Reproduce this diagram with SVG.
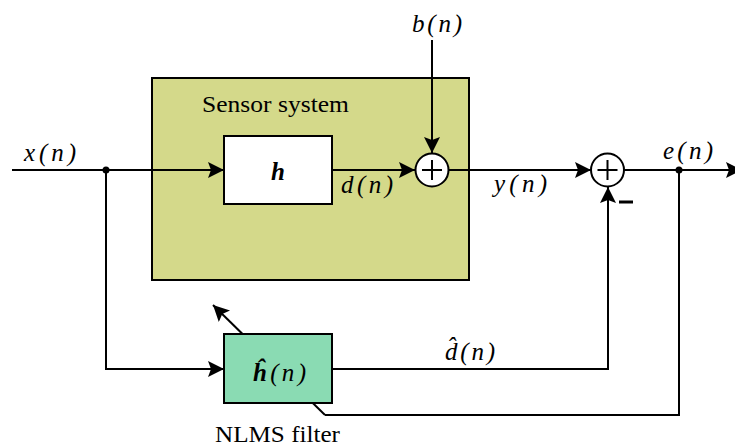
<svg xmlns="http://www.w3.org/2000/svg" width="735" height="448" viewBox="0 0 735 448">
<defs>
<marker id="arr" markerUnits="userSpaceOnUse" markerWidth="18" markerHeight="18" refX="16" refY="8" orient="auto">
<path d="M0,0 L16,8 L0,16 L3,8 Z" fill="#000"/>
</marker>
<style>
.ln{fill:none;stroke:#000;stroke-width:2}
.box{stroke:#000;stroke-width:2}
.m{font-family:'Liberation Serif','Times New Roman','DejaVu Serif',serif;font-style:italic;font-size:25px;fill:#000}
.t{font-family:'Liberation Serif','Times New Roman','DejaVu Serif',serif;font-size:23px;fill:#000}
</style>
</defs>
<rect width="735" height="448" fill="#fff"/>
<g id="sensor-system">
<rect class="box" x="152" y="78" width="317" height="202" fill="#d4d98a"/>
<text class="t" x="202" y="112" textLength="147" lengthAdjust="spacingAndGlyphs">Sensor system</text>
</g>
<g id="connectors">
<line class="ln" x1="12" y1="170" x2="224" y2="170" marker-end="url(#arr)"/>
<line class="ln" x1="332" y1="170" x2="415" y2="170" marker-end="url(#arr)"/>
<line class="ln" x1="432" y1="40" x2="432" y2="153" marker-end="url(#arr)"/>
<line class="ln" x1="449" y1="170" x2="591" y2="170" marker-end="url(#arr)"/>
<line class="ln" x1="624" y1="170" x2="742" y2="170" marker-end="url(#arr)"/>
<polyline class="ln" points="106,170 106,369 224,369" marker-end="url(#arr)"/>
<polyline class="ln" points="332,369 608,369 608,187" marker-end="url(#arr)"/>
<polyline class="ln" points="679,170 679,415 325,415"/>
<line class="ln" x1="325" y1="415" x2="213" y2="305" marker-end="url(#arr)"/>
<circle cx="106" cy="170" r="3.5" fill="#000"/>
<circle cx="679" cy="170" r="3.5" fill="#000"/>
</g>
<g id="h">
<rect class="box" x="224" y="136" width="108" height="68" fill="#fff"/>
<text class="m" x="278" y="180" text-anchor="middle" font-weight="bold">h</text>
</g>
<g id="sum1">
<circle class="box" cx="432" cy="170" r="16.5" fill="#fff"/>
<path class="ln" d="M422,170 H442 M432,160 V180"/>
</g>
<g id="sum2">
<circle class="box" cx="607.5" cy="170" r="16.5" fill="#fff"/>
<path class="ln" d="M597.5,170 H617.5 M607.5,160 V180"/>
<line x1="619" y1="202" x2="633" y2="202" stroke="#000" stroke-width="3"/>
</g>
<g id="nlms-filter">
<rect class="box" x="224" y="334" width="108" height="69" fill="#8adbb3"/>
<text class="m" x="253" y="381" textLength="53" lengthAdjust="spacing"><tspan font-weight="bold">ĥ</tspan>(n)</text>
<text class="t" x="215" y="442" textLength="125" lengthAdjust="spacingAndGlyphs">NLMS filter</text>
</g>
<g id="labels">
<text class="m" x="24" y="161" textLength="52" lengthAdjust="spacing">x(n)</text>
<text class="m" x="412" y="32" textLength="50" lengthAdjust="spacing">b(n)</text>
<text class="m" x="341" y="193" textLength="52" lengthAdjust="spacing">d(n)</text>
<text class="m" x="494" y="192" textLength="53" lengthAdjust="spacing">y(n)</text>
<text class="m" x="663" y="159" textLength="50" lengthAdjust="spacing">e(n)</text>
<text class="m" x="445" y="360" textLength="50" lengthAdjust="spacing">d̂(n)</text>
</g>
</svg>
